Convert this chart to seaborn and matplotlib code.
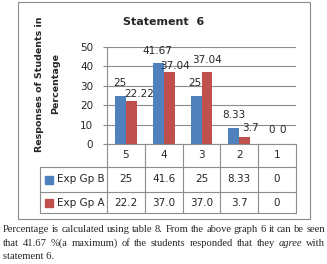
import matplotlib
matplotlib.use('Agg')
import matplotlib.pyplot as plt
import matplotlib.transforms as mtransforms
from matplotlib.lines import Line2D
from matplotlib.patches import Rectangle
import seaborn as sns
import pandas as pd

categories = ['5', '4', '3', '2', '1']
groups = ['Exp Gp B', 'Exp Gp A']
gp_b = [25, 41.67, 25, 8.33, 0]
gp_a = [22.22, 37.04, 37.04, 3.7, 0]
table_b = ['25', '41.6', '25', '8.33', '0']
table_a = ['22.2', '37.0', '37.0', '3.7', '0']
label_b = ['25', '41.67', '25', '8.33', '0']
label_a = ['22.22', '37.04', '37.04', '3.7', '0']
colors = ['#4F81BD', '#C0504D']

df = pd.DataFrame({
    'cat': categories * 2,
    'val': gp_b + gp_a,
    'grp': [groups[0]] * 5 + [groups[1]] * 5,
})

W, H = 327, 264
def fx(x):
    return x / W
def fy(y):
    return 1 - y / H

sns.set_theme(style='white')
plt.rcParams['font.family'] = ['DejaVu Sans']
fig = plt.figure(figsize=(W / 100, H / 100), dpi=100)
fig.patch.set_facecolor('white')

# outer chart frame
fig.add_artist(Rectangle((fx(18), fy(219)), fx(310) - fx(18), fy(2) - fy(219),
                         transform=fig.transFigure, fill=False, edgecolor='#8c8c8c', lw=0.8))

ax = fig.add_axes([fx(107), fy(144), fx(296) - fx(107), fy(47) - fy(144)])
sns.barplot(data=df, x='cat', y='val', hue='grp', order=categories, hue_order=groups,
            palette=colors, width=0.58, saturation=1, linewidth=0, legend=False, ax=ax)
ax.set_ylim(0, 50)
ax.set_yticks([0, 10, 20, 30, 40, 50])
ax.yaxis.grid(True, color='#8c8c8c', lw=0.8)
ax.set_axisbelow(True)
for s in ['top', 'right']:
    ax.spines[s].set_visible(False)
for s in ['left', 'bottom']:
    ax.spines[s].set_color('#8c8c8c')
    ax.spines[s].set_linewidth(0.8)
ax.set_xlabel('')
ax.set_ylabel('')
ax.set_xticks([])
ax.tick_params(axis='y', length=3, width=0.8, color='#8c8c8c', pad=7, labelsize=7.5, left=True)

# data labels, nudged like Excel does where they would collide (pixel offsets)
nudge_b = [(-1, 12), (-1, 12), (-1, 12), (0, 13), (0, 14)]
nudge_a = [(7.5, 7), (6, 6), (0.5, 12), (6, 8.5), (0, 14)]
for cont, labs, nudges in zip(ax.containers, [label_b, label_a], [nudge_b, nudge_a]):
    for bar, lab, (dx, dy) in zip(cont, labs, nudges):
        ax.annotate(lab, xy=(bar.get_x() + bar.get_width() / 2, bar.get_height()),
                    xytext=(dx * 0.72, dy * 0.72), textcoords='offset points',
                    ha='center', va='center', fontsize=7.5, annotation_clip=False)

fig.text(fx(164), fy(22), 'Statement  6', ha='center', va='center', fontsize=8, fontweight='bold')
fig.text(fx(40), fy(84), 'Responses of Students in', rotation=90, ha='center', va='center',
         fontsize=6.8, fontweight='bold')
fig.text(fx(56), fy(84), 'Percentage', rotation=90, ha='center', va='center',
         fontsize=6.8, fontweight='bold')

# data table under the axis
tr = mtransforms.blended_transform_factory(ax.transData, fig.transFigure)
lc = '#8c8c8c'
rows_y = [144, 167, 192, 213]
xs = [i - 0.5 for i in range(len(categories) + 1)]
for xb in xs:
    fig.add_artist(Line2D([xb, xb], [fy(144), fy(213)], transform=tr, color=lc, lw=0.8))
for y in rows_y[1:]:
    fig.add_artist(Line2D([fx(40), fx(296)], [fy(y), fy(y)], transform=fig.transFigure, color=lc, lw=0.8))
fig.add_artist(Line2D([fx(40), fx(40)], [fy(167), fy(213)], transform=fig.transFigure, color=lc, lw=0.8))

for i, c in enumerate(categories):
    fig.text(i, fy(155.5), c, transform=tr, ha='center', va='center', fontsize=7.5)
    fig.text(i, fy(179.5), table_b[i], transform=tr, ha='center', va='center', fontsize=7.5)
    fig.text(i, fy(202.5), table_a[i], transform=tr, ha='center', va='center', fontsize=7.5)

for yc, g, col in [(179.5, groups[0], colors[0]), (202.5, groups[1], colors[1])]:
    fig.add_artist(Rectangle((fx(45), fy(yc + 4)), fx(8), fy(0) - fy(8),
                             transform=fig.transFigure, color=col))
    fig.text(fx(57), fy(yc), g, ha='left', va='center', fontsize=7.5)

# caption, justified between x0 and x1
cap = dict(family='Liberation Serif', fontsize=7.6, va='baseline')
renderer = fig.canvas.get_renderer()

def justified(words, y, x0=3, x1=325):
    texts = [fig.text(0, fy(y), w, style=st, **cap) for w, st in words]
    widths = [t.get_window_extent(renderer).width for t in texts]
    gap = (x1 - x0 - sum(widths)) / (len(words) - 1)
    x = x0
    for t, w in zip(texts, widths):
        t.set_x(fx(x))
        x += w + gap

line1 = 'Percentage is calculated using table 8. From the above graph 6 it can be seen'
line2 = 'that 41.67 %(a maximum) of the students responded that they agree with'
justified([(w, 'normal') for w in line1.split()], 232)
justified([(w, 'italic' if w == 'agree' else 'normal') for w in line2.split()], 246)
fig.text(fx(3), fy(259), 'statement 6.', **cap)

fig.savefig('out.png', dpi=100, facecolor='white')
